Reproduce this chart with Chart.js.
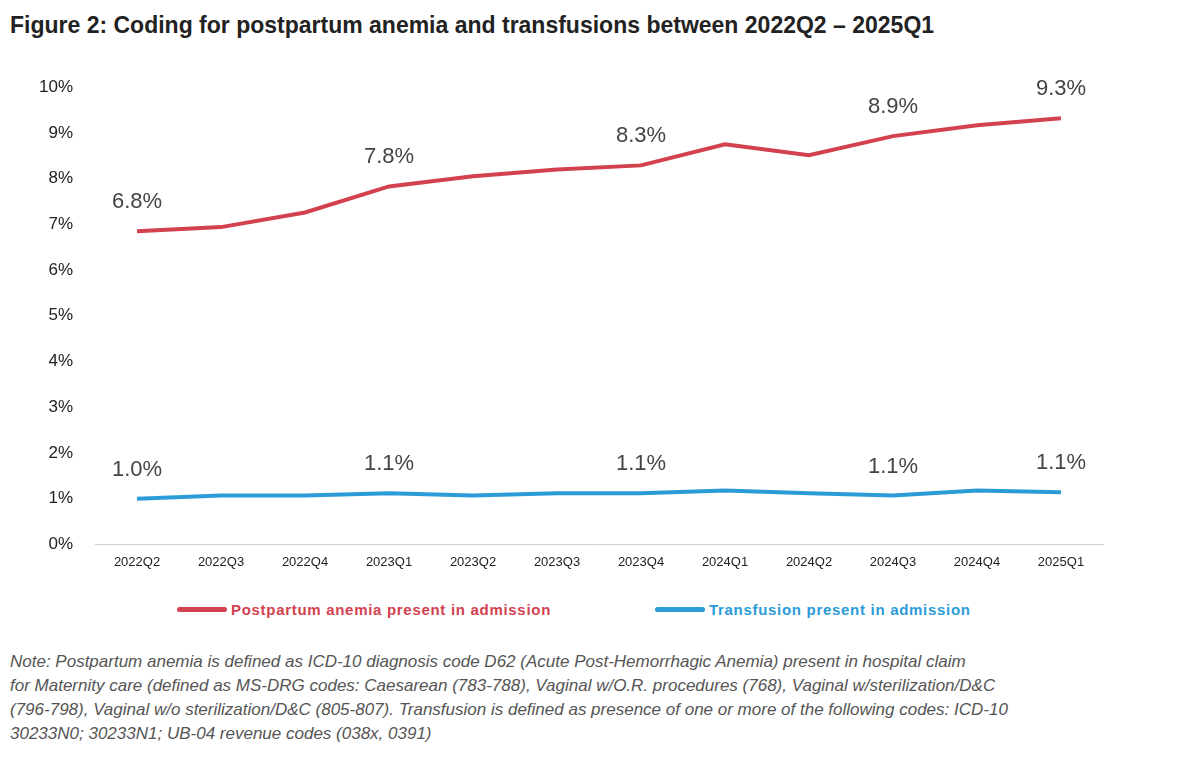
<!DOCTYPE html>
<html>
<head>
<meta charset="utf-8">
<script src="https://cdn.jsdelivr.net/npm/chart.js@4"></script>
<style>
  body { margin: 0; background: #fff; font-family: "Liberation Sans", Arial, sans-serif; }
  #title { position: absolute; left: 10px; top: 12px; font-size: 23px; font-weight: bold; color: #222; }
  #wrap { position: absolute; left: 0; top: 63px; width: 1193px; height: 517px; }
  #legend { position: absolute; top: 601px; left: 0; width: 1193px; font-size: 15px; font-weight: bold; letter-spacing: 0.7px; }
  .item { position: absolute; display: flex; align-items: center; }
  .item span.sw { display: inline-block; width: 50px; height: 5px; border-radius: 3px; margin-right: 4px; }
  #note { position: absolute; left: 10px; top: 650px; width: 1180px; font-size: 17px; line-height: 24px; font-style: italic; color: #555; white-space: nowrap; }
</style>
</head>
<body>
<div id="title">Figure 2: Coding for postpartum anemia and transfusions between 2022Q2 – 2025Q1</div>
<div id="wrap"><canvas id="chart"></canvas></div>
<div id="legend">
  <div class="item" style="left:177px;color:#d3414f"><span class="sw" style="background:#d3414f"></span>Postpartum anemia present in admission</div>
  <div class="item" style="left:655px;color:#2b9cd8"><span class="sw" style="background:#2b9cd8"></span>Transfusion present in admission</div>
</div>
<div id="note">Note: Postpartum anemia is defined as ICD-10 diagnosis code D62 (Acute Post-Hemorrhagic Anemia) present in hospital claim<br>for Maternity care (defined as MS-DRG codes: Caesarean (783-788), Vaginal w/O.R. procedures (768), Vaginal w/sterilization/D&amp;C<br>(796-798), Vaginal w/o sterilization/D&amp;C (805-807). Transfusion is defined as presence of one or more of the following codes: ICD-10<br>30233N0; 30233N1; UB-04 revenue codes (038x, 0391)</div>
<script>
// Data
const quarters = ['2022Q2', '2022Q3', '2022Q4', '2023Q1', '2023Q2', '2023Q3', '2023Q4', '2024Q1', '2024Q2', '2024Q3', '2024Q4', '2025Q1'];
const anemia = [6.85, 6.94, 7.26, 7.83, 8.05, 8.2, 8.29, 8.75, 8.51, 8.93, 9.17, 9.32];
const transfusion = [1.0, 1.07, 1.07, 1.12, 1.07, 1.12, 1.12, 1.18, 1.12, 1.07, 1.18, 1.14];
const anemiaLabels = ['6.8%', null, null, '7.8%', null, null, '8.3%', null, null, '8.9%', null, '9.3%'];
const transfusionLabels = ['1.0%', null, null, '1.1%', null, null, '1.1%', null, null, '1.1%', null, '1.1%'];

// Draw the value labels above selected points
const pointLabels = {
    id: 'pointLabels',
    afterDatasetsDraw(chart) {
        const ctx = chart.ctx;
        const sets = [anemiaLabels, transfusionLabels];
        ctx.save();
        ctx.font = '22px "Liberation Sans", Arial, sans-serif';
        ctx.fillStyle = '#444';
        ctx.textAlign = 'center';
        ctx.textBaseline = 'bottom';
        sets.forEach((labels, di) => {
            const meta = chart.getDatasetMeta(di);
            labels.forEach((txt, i) => {
                if (!txt) return;
                const pt = meta.data[i];
                ctx.fillText(txt, pt.x, pt.y - 18);
            });
        });
        ctx.restore();
    }
};

new Chart(document.getElementById('chart'), {
    type: 'line',
    data: {
        labels: quarters,
        datasets: [
            { data: anemia, borderColor: '#d3414f', borderWidth: 4, pointRadius: 0, tension: 0 },
            { data: transfusion, borderColor: '#2b9cd8', borderWidth: 4, pointRadius: 0, tension: 0 }
        ]
    },
    options: {
        responsive: true,
        maintainAspectRatio: false,
        animation: false,
        layout: { padding: { left: 25, right: 90, top: 22, bottom: 0 } },
        plugins: { legend: { display: false }, tooltip: { enabled: false } },
        scales: {
            x: {
                offset: true,
                grid: { display: false, drawTicks: false },
                border: { color: '#cfcfcf' },
                ticks: { color: '#222', font: { size: 13 }, padding: 10, maxRotation: 0 }
            },
            y: {
                min: 0,
                max: 10,
                grid: { display: false },
                border: { display: false },
                ticks: { stepSize: 1, color: '#222', font: { size: 17 }, padding: 14, callback: (v) => v + '%' }
            }
        }
    },
    plugins: [pointLabels]
});
</script>
</body>
</html>
